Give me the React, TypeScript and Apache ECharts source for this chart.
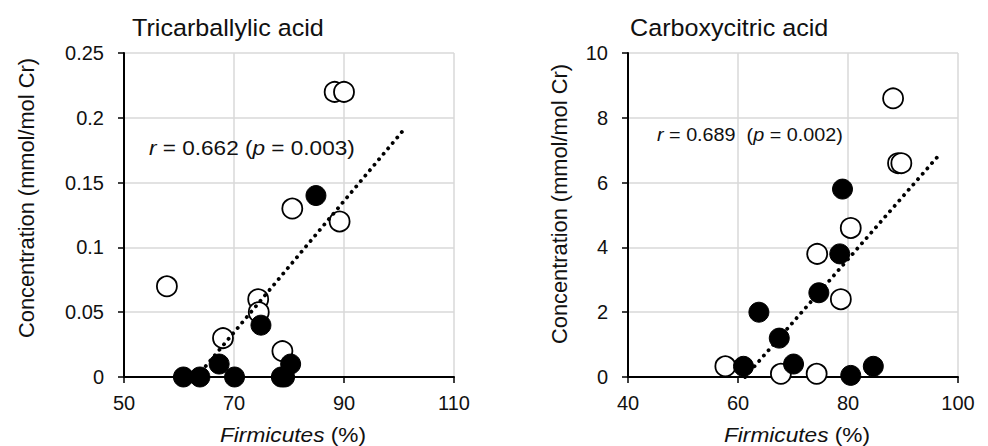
import React, { useEffect, useRef } from "react";
import * as echarts from "echarts";

// Tricarballylic acid (left panel): [Firmicutes %, concentration]
const triOpen: [number, number][] = [
  [57.8, 0.07], [68.0, 0.03], [74.4, 0.06], [74.5, 0.05], [78.8, 0.02],
  [80.6, 0.13], [88.3, 0.22], [89.2, 0.12], [90.0, 0.22],
];
const triFilled: [number, number][] = [
  [60.8, 0], [63.8, 0], [67.3, 0.01], [70.1, 0], [74.9, 0.04],
  [78.6, 0], [79.2, 0], [80.3, 0.01], [84.9, 0.14],
];
const triTrend: [number, number][] = [[63.2, 0], [101.3, 0.193]];

// Carboxycitric acid (right panel)
const carOpen: [number, number][] = [
  [57.7, 0.33], [67.8, 0.1], [74.3, 0.1], [74.4, 3.8], [78.7, 2.4],
  [80.5, 4.6], [88.2, 8.6], [89.1, 6.6], [89.7, 6.6],
];
const carFilled: [number, number][] = [
  [61.0, 0.33], [63.8, 2.0], [67.5, 1.2], [70.1, 0.4], [74.7, 2.6],
  [78.5, 3.8], [79.0, 5.8], [80.5, 0.05], [84.6, 0.33],
];
const carTrend: [number, number][] = [[61.3, 0], [96.6, 6.86]];

const titles = ["Tricarballylic acid", "Carboxycitric acid"];
const annotations = ["{i|r} = 0.662 ({i|p} = 0.003)", "{i|r} = 0.689  ({i|p} = 0.002)"];
const xName = "{i|Firmicutes} (%)";
const yName = "Concentration (mmol/mol Cr)";

const FONT = "'Liberation Sans', Arial, sans-serif";

export default function App() {
  const ref = useRef<HTMLDivElement>(null);
  useEffect(() => {
    if (!ref.current) return;
    const chart = echarts.init(ref.current, undefined, { renderer: "svg" });
    const gridCommon = { top: 53, height: 324, width: 330 };
    const axisLine = { show: true, onZero: false, lineStyle: { color: "#000", width: 2 } };
    const axisTick = { show: true, length: 6, lineStyle: { color: "#000", width: 1.5 } };
    const splitLine = { show: true, lineStyle: { color: "#d9d9d9", width: 1.5 } };
    const xAxisCommon = (min: number, max: number) => ({
      type: "value" as const,
      min,
      max,
      interval: 20,
      axisLine,
      axisTick,
      axisLabel: { color: "#111", fontSize: 20, fontFamily: FONT, margin: 16 },
      splitLine,
    });
    const yAxisCommon = (max: number, interval: number) => ({
      type: "value" as const,
      min: 0,
      max,
      interval,
      axisLine,
      axisTick,
      axisLabel: { color: "#111", fontSize: 20, fontFamily: FONT, margin: 20 },
      splitLine,
    });
    const openStyle = { color: "#fff", borderColor: "#000", borderWidth: 1.8, opacity: 1 };
    const filledStyle = { color: "#000", borderColor: "#000", borderWidth: 1, opacity: 1 };
    const trendStyle = { color: "#000", width: 3.8, type: [0.1, 7] as any, cap: "round" as const };
    const mkScatter = (data: [number, number][], idx: number, style: any, z: number) => ({
      type: "scatter" as const,
      xAxisIndex: idx,
      yAxisIndex: idx,
      data,
      symbol: "circle",
      symbolSize: 20,
      itemStyle: style,
      z,
      clip: false,
    });
    const mkTrend = (data: [number, number][], idx: number) => ({
      type: "line" as const,
      xAxisIndex: idx,
      yAxisIndex: idx,
      data,
      showSymbol: false,
      symbol: "none",
      lineStyle: trendStyle,
      z: 5,
    });
    const tb = { fontFamily: FONT, fill: "#111" };
    const italic = (size: number) => ({ i: { fontStyle: "italic", fontSize: size, fontFamily: FONT } });
    chart.setOption({
      animation: false,
      backgroundColor: "#fff",
      grid: [
        { ...gridCommon, left: 124 },
        { ...gridCommon, left: 628 },
      ],
      xAxis: [
        { ...xAxisCommon(50, 110), gridIndex: 0 },
        { ...xAxisCommon(40, 100), gridIndex: 1 },
      ],
      yAxis: [
        { ...yAxisCommon(0.25, 0.05), gridIndex: 0 },
        { ...yAxisCommon(10, 2), gridIndex: 1 },
      ],
      series: [
        mkScatter(triOpen, 0, openStyle, 2),
        mkScatter(triFilled, 0, filledStyle, 3),
        mkTrend(triTrend, 0),
        mkScatter(carOpen, 1, openStyle, 2),
        mkScatter(carFilled, 1, filledStyle, 3),
        mkTrend(carTrend, 1),
      ],
      graphic: [
        {
          type: "text", x: 132, y: 28, scaleX: 1.07,
          style: { ...tb, text: titles[0], fontSize: 23.5, verticalAlign: "middle" },
        },
        {
          type: "text", x: 630, y: 28, scaleX: 1.07,
          style: { ...tb, text: titles[1], fontSize: 23.5, verticalAlign: "middle" },
        },
        {
          type: "text", x: 149, y: 148, z: 10, scaleX: 1.075,
          style: { ...tb, text: annotations[0], fontSize: 21, verticalAlign: "middle", rich: italic(21) },
        },
        {
          type: "text", x: 657, y: 135, z: 10, scaleX: 1.07,
          style: { ...tb, text: annotations[1], fontSize: 18.5, verticalAlign: "middle", rich: italic(18.5) },
        },
        {
          type: "text", x: 293, y: 435, scaleX: 1.08,
          style: { ...tb, text: xName, fontSize: 21, align: "center", verticalAlign: "middle", rich: italic(21) },
        },
        {
          type: "text", x: 797, y: 435, scaleX: 1.08,
          style: { ...tb, text: xName, fontSize: 21, align: "center", verticalAlign: "middle", rich: italic(21) },
        },
        {
          type: "text", x: 26, y: 198, rotation: Math.PI / 2,
          style: { ...tb, text: yName, fontSize: 21.8, align: "center", verticalAlign: "middle" },
        },
        {
          type: "text", x: 559, y: 204, rotation: Math.PI / 2,
          style: { ...tb, text: yName, fontSize: 21.8, align: "center", verticalAlign: "middle" },
        },
      ],
    });
    return () => chart.dispose();
  }, []);
  return (
    <div
      ref={ref}
      style={{ position: "fixed", left: 0, top: 0, width: 988, height: 446 }}
    />
  );
}
